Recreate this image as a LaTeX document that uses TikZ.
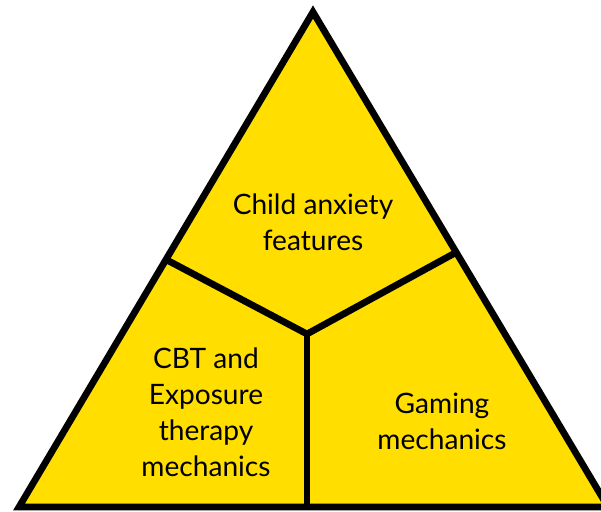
\documentclass[tikz,border=0pt]{standalone}
\usepackage{fontspec}
\setmainfont{Lato}
\definecolor{sectorfill}{RGB}{255,222,0}
\begin{document}
\begin{tikzpicture}[x=0.02cm, y=-0.02cm,
  edge/.style={line width=0.135cm, black},
  label/.style={align=center, font=\fontsize{16}{20.5}\selectfont, text=black, inner sep=0pt}]
\useasboundingbox (0,0) rectangle (601,511);
\clip (0,0) rectangle (601,511);
% corners of the triangle and the inner junction
\coordinate (apex) at (313,12);
\coordinate (bl) at (19,507);
\coordinate (br) at (608,507);
\coordinate (mid) at (307,334);
\coordinate (lp) at (165,259);
\coordinate (rp) at (455,253);
\coordinate (bp) at (307,507);
\fill[sectorfill] (apex) -- (bl) -- (br) -- cycle;
\draw[edge] (lp) -- (mid) -- (rp);
\draw[edge] (mid) -- (bp);
\draw[edge, line join=miter] (apex) -- (bl) -- (br) -- cycle;
% sector labels
\node[label] (top) at (313,222) {Child anxiety\\features};
\node[label] (left) at (206,412) {CBT and\\Exposure\\therapy\\mechanics};
\node[label] (right) at (442,421) {Gaming\\mechanics};
\end{tikzpicture}
\end{document}
